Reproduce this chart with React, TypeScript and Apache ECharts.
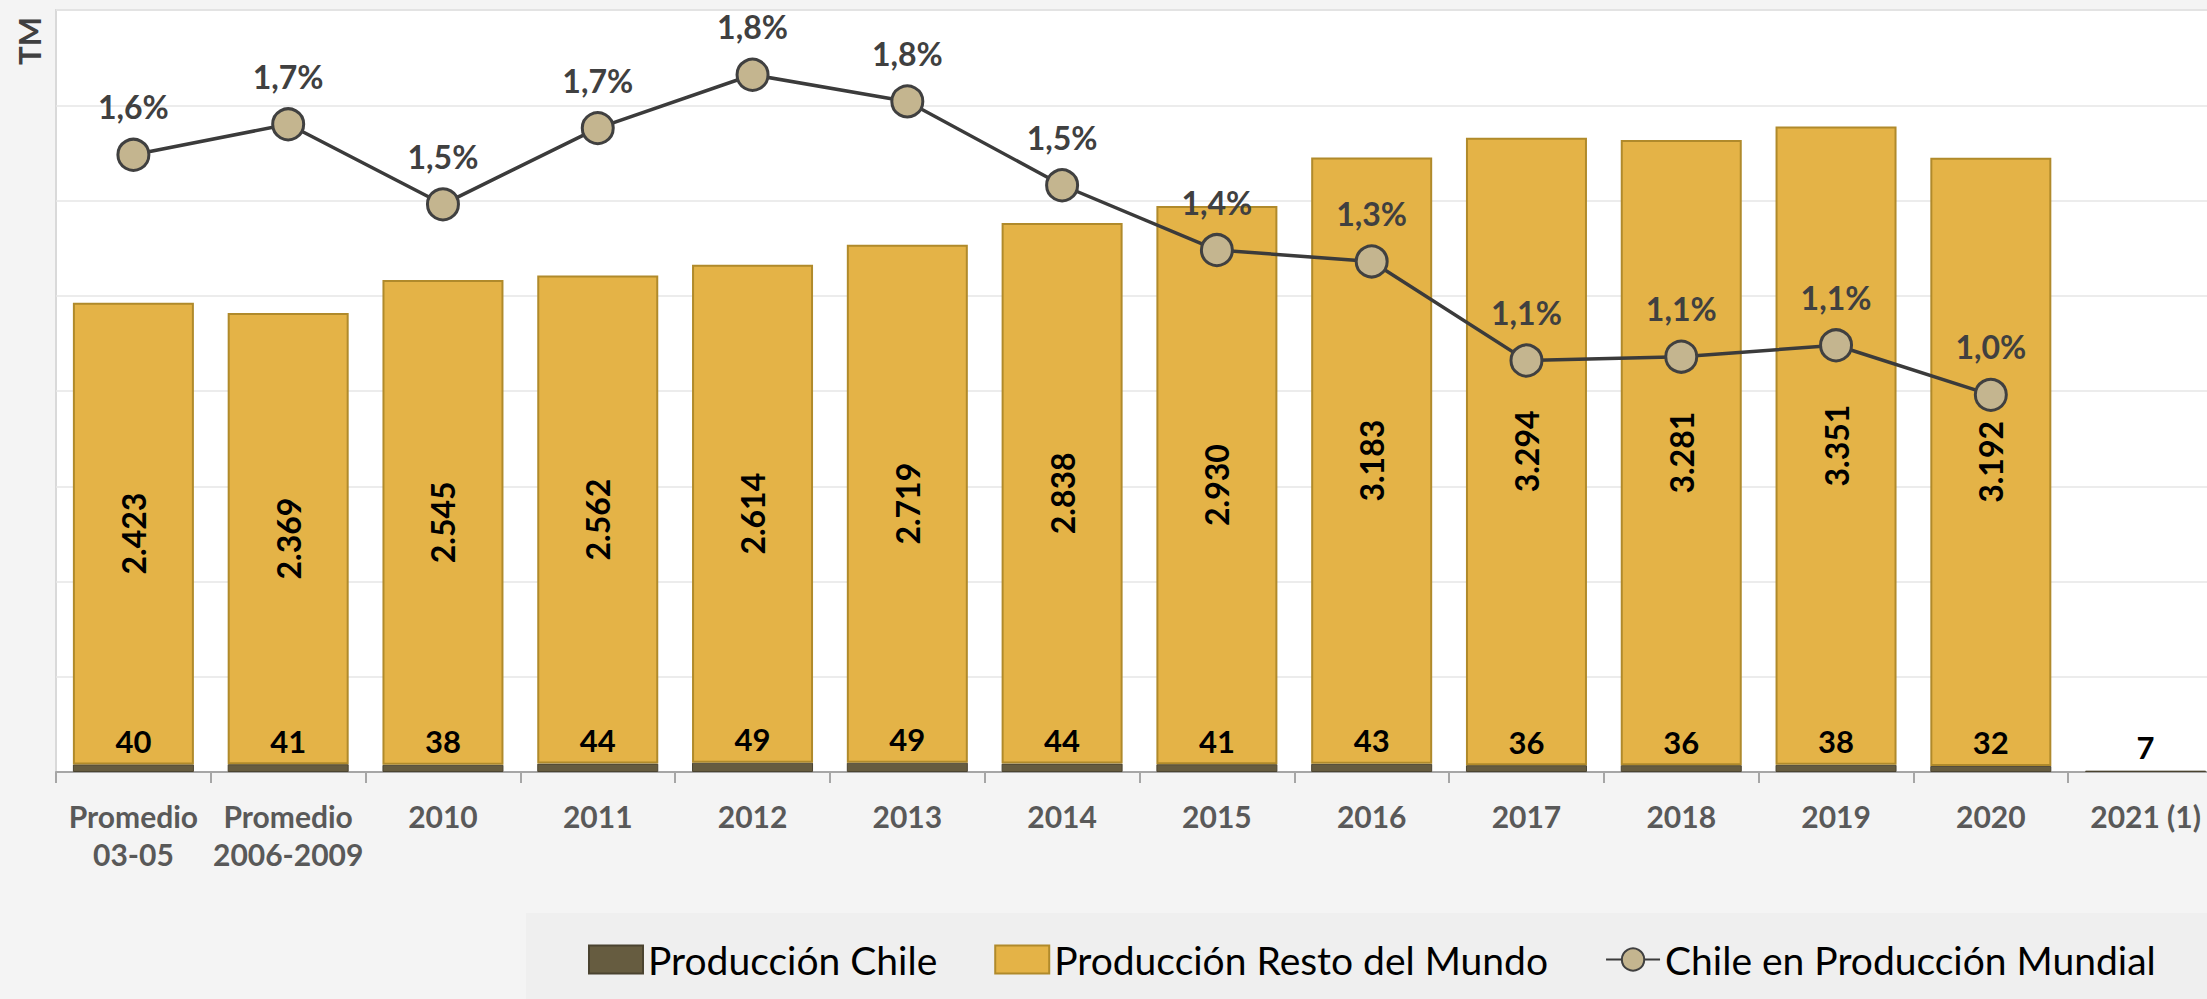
import React, { useEffect, useRef } from "react";
import * as echarts from "echarts";

const categories = [
  "Promedio\n03-05",
  "Promedio\n2006-2009",
  "2010",
  "2011",
  "2012",
  "2013",
  "2014",
  "2015",
  "2016",
  "2017",
  "2018",
  "2019",
  "2020",
  "2021 (1)",
];
const produccionChile = [40, 41, 38, 44, 49, 49, 44, 41, 43, 36, 36, 38, 32, 7];
const produccionResto = [2423, 2369, 2545, 2562, 2614, 2719, 2838, 2930, 3183, 3294, 3281, 3351, 3192, null];
const chileEnMundial = [1.62, 1.7, 1.49, 1.69, 1.83, 1.76, 1.54, 1.37, 1.34, 1.08, 1.09, 1.12, 0.99, null];

const seriesNames = ["Producción Chile", "Producción Resto del Mundo", "Chile en Producción Mundial"];

const FONT = "Lato";

function fmtThousands(v: number): string {
  const s = Math.round(v).toString();
  return s.replace(/\B(?=(\d{3})+(?!\d))/g, ".");
}

export default function App() {
  const ref = useRef<HTMLDivElement>(null);
  useEffect(() => {
    if (!ref.current) return;
    const chart = echarts.init(ref.current, undefined, { renderer: "svg" });
    chart.setOption({
      animation: false,
      backgroundColor: "#f4f4f4",
      textStyle: { fontFamily: FONT },
      graphic: [
        {
          type: "rect",
          z: -10,
          shape: { x: 526, y: 913, width: 1681, height: 86 },
          style: { fill: "#efefef" },
        },
        {
          type: "text",
          x: 29,
          y: 41,
          rotation: Math.PI / 2,
          style: {
            text: "TM",
            fontFamily: FONT,
            fontWeight: "bold",
            fontSize: 31,
            fill: "#404040",
            align: "center",
            verticalAlign: "middle",
          },
        },
      ],
      grid: {
        left: 56,
        top: 10,
        right: -16,
        bottom: 227,
        show: true,
        backgroundColor: "#ffffff",
        borderColor: "#d9d9d9",
        borderWidth: 2,
        containLabel: false,
        outerBoundsMode: "none",
      },
      legend: {
        data: [
          { name: seriesNames[0], icon: "rect" },
          { name: seriesNames[1], icon: "rect" },
          { name: seriesNames[2] },
        ],
        left: 583,
        top: 935,
        orient: "horizontal",
        itemWidth: 54,
        itemHeight: 28,
        itemGap: 57,
        textStyle: { fontFamily: FONT, fontSize: 39, color: "#000000", lineHeight: 39 },
      },
      xAxis: {
        type: "category",
        data: categories,
        axisLine: { show: true, lineStyle: { color: "#a6a6a6", width: 2 } },
        axisTick: { show: true, length: 11, lineStyle: { color: "#a6a6a6", width: 2 } },
        axisLabel: {
          interval: 0,
          color: "#595959",
          fontFamily: FONT,
          fontWeight: "bold",
          fontSize: 30,
          lineHeight: 38,
          margin: 25,
        },
        splitLine: { show: false },
      },
      yAxis: [
        {
          type: "value",
          min: 0,
          max: 4000,
          interval: 500,
          axisLine: { show: false },
          axisTick: { show: false },
          axisLabel: { show: false },
          splitLine: { show: true, lineStyle: { color: "#e6e6e6", width: 1.5 } },
        },
        {
          type: "value",
          min: 0,
          max: 2,
          interval: 0.25,
          show: false,
          splitLine: { show: false },
        },
      ],
      series: [
        {
          name: seriesNames[0],
          type: "bar",
          stack: "total",
          barWidth: 121,
          data: produccionChile,
          itemStyle: { color: "#665c40", borderColor: "#4a4330", borderWidth: 1 },
          label: {
            show: true,
            position: "top",
            distance: 8,
            color: "#000000",
            fontFamily: FONT,
            fontWeight: "bold",
            fontSize: 31,
          },
          z: 2,
        },
        {
          name: seriesNames[1],
          type: "bar",
          stack: "total",
          barWidth: 121,
          data: produccionResto,
          itemStyle: { color: "#e4b347", borderColor: "#b08a2b", borderWidth: 2 },
          label: {
            show: true,
            position: "inside",
            rotate: 90,
            color: "#000000",
            fontFamily: FONT,
            fontWeight: "bold",
            fontSize: 32,
            formatter: (p: any) => fmtThousands(p.value),
          },
          z: 2,
        },
        {
          name: seriesNames[2],
          type: "line",
          yAxisIndex: 1,
          data: chileEnMundial,
          symbol: "circle",
          symbolSize: 31,
          lineStyle: { color: "#3b3b3b", width: 3.5 },
          itemStyle: { color: "#c4b58f", borderColor: "#404040", borderWidth: 3 },
          label: {
            show: true,
            position: "top",
            distance: 15,
            color: "#404040",
            fontFamily: FONT,
            fontWeight: "bold",
            fontSize: 32,
            formatter: (p: any) => p.value.toFixed(1).replace(".", ",") + "%",
          },
          z: 5,
        },
      ],
    });
    return () => chart.dispose();
  }, []);
  return (
    <div
      ref={ref}
      style={{ position: "absolute", left: 0, top: 0, width: 2207, height: 999 }}
    />
  );
}
